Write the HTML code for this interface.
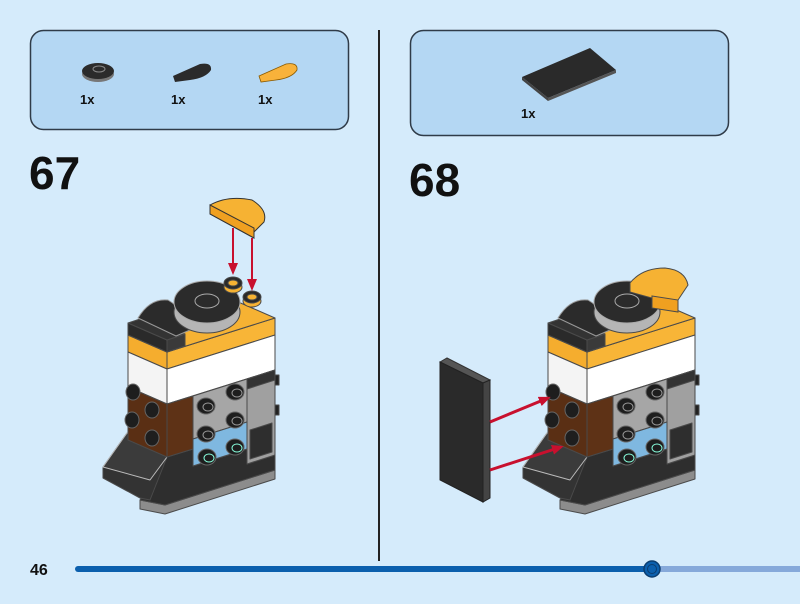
<!DOCTYPE html>
<html><head><meta charset="utf-8"><style>
html,body{margin:0;padding:0;background:#d5ebfb;}
svg{display:block;font-family:"Liberation Sans",sans-serif;}
</style></head><body>
<svg width="800" height="604" viewBox="0 0 800 604" xmlns="http://www.w3.org/2000/svg">
<defs>
<marker id="ah" markerWidth="12" markerHeight="10" refX="9" refY="5" orient="auto" markerUnits="userSpaceOnUse">
<path d="M0,0 L12,5 L0,10 Z" fill="#c8102e"/></marker>
<g id="body" stroke="#4a4a4a" stroke-width="1" stroke-linejoin="round">
  <polygon points="140,500 165,505 275,470 275,479 165,514 140,509" fill="#8c8c8c"/>
  <polygon points="167,457 193,449 193,466 247,449 247,464 275,455 275,470 165,505 140,500" fill="#2e2e2e"/>
  <polygon points="103,467 127,433 167,457 150,500 140,498 103,478" fill="#333"/>
  <polygon points="103,467 127,433 167,457 150,480 " fill="#3b3b3b" stroke="#bbb"/>
  <polygon points="128,335 167,352 167,369 128,352" fill="#f5ad2e"/>
  <polygon points="167,352 275,318 275,335 167,369" fill="#f8b537"/>
  <polygon points="128,352 167,369 167,404 128,387" fill="#f4f4f4"/>
  <polygon points="167,369 275,335 275,370 167,404" fill="#ffffff"/>
  <polygon points="128,387 167,404 167,457 128,440" fill="#5a2f14"/>
  <polygon points="167,404 193,396 193,449 167,457" fill="#5e3216"/>
  <polygon points="193,396 247,379 247,422 193,439" fill="#a6a6a6"/>
  <polygon points="193,439 247,422 247,449 193,466" fill="#7fb8e0"/>
  <polygon points="247,379 275,370 275,455 247,464" fill="#a0a0a0"/>
  <polygon points="247,379 275,370 275,380 247,389" fill="#333"/>
  <polygon points="250,430 272,423 272,452 250,459" fill="#2e2e2e"/>
  <rect x="275" y="375" width="4" height="10" fill="#222"/>
  <rect x="275" y="405" width="4" height="10" fill="#222"/>
  <g fill="#1e1e1e" stroke="#666">
    <ellipse cx="133" cy="392" rx="7" ry="8"/><ellipse cx="152" cy="410" rx="7" ry="8"/>
    <ellipse cx="132" cy="420" rx="7" ry="8"/><ellipse cx="152" cy="438" rx="7" ry="8"/>
    <ellipse cx="235" cy="392" rx="9" ry="8"/><ellipse cx="206" cy="406" rx="9" ry="8"/>
    <ellipse cx="235" cy="420" rx="9" ry="8"/><ellipse cx="206" cy="434" rx="9" ry="8"/>
    <ellipse cx="207" cy="457" rx="9" ry="8"/><ellipse cx="235" cy="447" rx="9" ry="8"/>
  </g>
  <g fill="none" stroke="#999">
    <ellipse cx="237" cy="393" rx="5" ry="4"/><ellipse cx="208" cy="407" rx="5" ry="4"/>
    <ellipse cx="237" cy="421" rx="5" ry="4"/><ellipse cx="208" cy="435" rx="5" ry="4"/>
    <ellipse cx="209" cy="458" rx="5" ry="4" stroke="#8fd"/><ellipse cx="237" cy="448" rx="5" ry="4" stroke="#8fd"/>
  </g>
  <polygon points="128,335 167,352 275,318 236,301" fill="#f6b233"/>
  <polygon points="128,323 167,340 167,352 128,335" fill="#2a2a2a"/>
  <polygon points="167,340 185,334 185,346 167,352" fill="#3a3a3a"/>
  <polygon points="128,323 167,340 185,334 146,317" fill="#333"/>
  <path d="M138,318 Q150,298 168,300 Q185,310 190,330 L176,336 Z" fill="#2b2b2b" stroke="#999"/>
  <ellipse cx="207" cy="312" rx="33" ry="21" fill="#b5b5b5"/>
  <ellipse cx="207" cy="302" rx="33" ry="21" fill="#2b2b2b" stroke="#aaa"/>
  <ellipse cx="207" cy="301" rx="12" ry="7" fill="none" stroke="#aaa"/>
</g>
</defs>

<rect x="30.5" y="30.5" width="318" height="99" rx="13" fill="#b4d7f3" stroke="#2f3b48" stroke-width="1.5"/>
<rect x="410.5" y="30.5" width="318" height="105" rx="13" fill="#b4d7f3" stroke="#2f3b48" stroke-width="1.5"/>
<line x1="379" y1="30" x2="379" y2="561" stroke="#222" stroke-width="2"/>

<ellipse cx="98" cy="74" rx="16" ry="8" fill="#777"/>
<ellipse cx="98" cy="71" rx="16" ry="8" fill="#2b2b2b"/>
<ellipse cx="99" cy="69" rx="6" ry="3" fill="none" stroke="#888"/>
<path d="M173,76 L200,64 Q212,62 211,70 Q206,78 190,80 L175,82 Z" fill="#2b2b2b"/>
<path d="M259,76 L286,64 Q298,62 297,70 Q292,78 276,80 L261,82 Z" fill="#f8b23a" stroke="#8a5a00" stroke-width="0.8"/>
<g font-weight="bold" font-size="13" fill="#111">
<text x="80" y="104">1x</text><text x="171" y="104">1x</text><text x="258" y="104">1x</text>
<text x="521" y="118">1x</text></g>
<polygon points="522,77 590,48 616,70 548,98" fill="#2a2a2a"/>
<polygon points="522,77 548,98 548,101 522,80" fill="#444"/>
<polygon points="548,98 616,70 616,73 548,101" fill="#555"/>

<text x="29" y="189" font-size="46" font-weight="bold" fill="#111">67</text>
<text x="409" y="196" font-size="46" font-weight="bold" fill="#111">68</text>

<use href="#body"/>
<g stroke="#4a4a4a">
<ellipse cx="233" cy="287" rx="9" ry="6" fill="#f6b233"/><ellipse cx="233" cy="283" rx="9" ry="6" fill="#2a2a2a"/><ellipse cx="233" cy="283" rx="5" ry="3" fill="#f6b233"/>
<ellipse cx="252" cy="301" rx="9" ry="6" fill="#f6b233"/><ellipse cx="252" cy="297" rx="9" ry="6" fill="#2a2a2a"/><ellipse cx="252" cy="297" rx="5" ry="3" fill="#f6b233"/>
<path d="M210,205 Q228,195 252,200 Q268,210 264,222 L254,232 L254,238 L210,214 Z" fill="#f6b233" stroke="#333"/>
<path d="M210,205 L254,228 L254,238 L210,214 Z" fill="#f0a020" stroke="#333"/>
</g>
<line x1="233" y1="228" x2="233" y2="272" stroke="#c8102e" stroke-width="2" marker-end="url(#ah)"/>
<line x1="252" y1="238" x2="252" y2="288" stroke="#c8102e" stroke-width="2" marker-end="url(#ah)"/>

<g transform="translate(420,0)"><use href="#body"/>
<path d="M210,283 Q222,268 245,268 Q265,270 268,285 L258,300 L250,303 L210,292 Z" fill="#f6b233" stroke="#4a4a4a"/>
<polygon points="232,296 258,300 258,312 232,308" fill="#f0a020" stroke="#4a4a4a"/>
</g>
<polygon points="440,362 447,358 490,380 483,383" fill="#555" stroke="#333"/>
<polygon points="440,362 483,383 483,502 440,480" fill="#2a2a2a" stroke="#222"/>
<polygon points="483,383 490,380 490,498 483,502" fill="#444" stroke="#222"/>
<line x1="490" y1="422" x2="548" y2="398" stroke="#c8102e" stroke-width="3" marker-end="url(#ah)"/>
<line x1="490" y1="470" x2="561" y2="447" stroke="#c8102e" stroke-width="3" marker-end="url(#ah)"/>

<text x="30" y="575" font-size="16" font-weight="bold" fill="#111">46</text>
<line x1="78" y1="569" x2="652" y2="569" stroke="#0b5fad" stroke-width="6" stroke-linecap="round"/>
<line x1="652" y1="569" x2="800" y2="569" stroke="#86a9da" stroke-width="6"/>
<circle cx="652" cy="569" r="8" fill="#0b5fad" stroke="#0a3d70" stroke-width="1.5"/>
<circle cx="652" cy="569" r="4.5" fill="none" stroke="#0a3d70" stroke-width="1"/>
</svg>
</body></html>
